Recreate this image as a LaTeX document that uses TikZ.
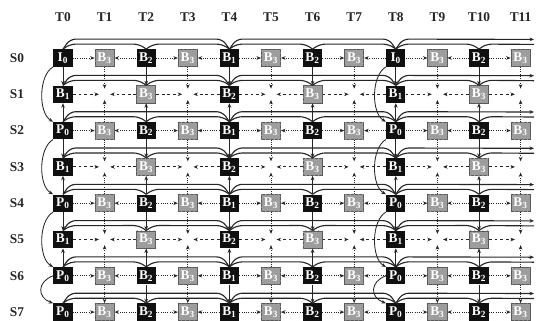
\documentclass[tikz,border=0pt]{standalone}
\usepackage{fontspec}
\setmainfont{Liberation Serif}
\usetikzlibrary{arrows.meta, calc, patterns}
\definecolor{refBlack}{HTML}{101010}
\definecolor{nonrefGray}{HTML}{9C9C9C}
\definecolor{lineDark}{HTML}{262626}

\begin{document}
\begin{tikzpicture}[x=0.025cm, y=-0.025cm,
    every node/.style={font=\fontsize{9.5}{11}\selectfont},
    lbl/.style={font=\fontsize{9.5}{11}\selectfont\bfseries, text=black!85},
    refbox/.style={rectangle, fill=refBlack, text=white, minimum width=4.8mm, minimum height=4.3mm,
                   inner sep=0pt, font=\fontsize{9.5}{10}\selectfont\bfseries},
    grybox/.style={refbox, fill=nonrefGray, draw=black!65, line width=0.5pt,
                   postaction={pattern=crosshatch dots, pattern color=black!35}},
    arr/.style={-{Stealth[length=3.2pt, width=2.6pt]}, lineDark, line width=0.6pt},
    hdot/.style={arr, densely dotted},
    hdash/.style={arr, dash pattern=on 2pt off 2pt, shorten >=4pt},
    vdot/.style={arr, densely dotted, shorten >=4pt},
    spanline/.style={lineDark, line width=0.8pt, rounded corners=4pt},
  ]
  \useasboundingbox (0,0) rectangle (540,321);

  % time and view labels
  \foreach \c in {0,...,11} \node[lbl] (t\c) at (63+41.6*\c, 17) {T\c};
  \foreach \r in {0,...,7} \node[lbl] (s\r) at (17, 58+36.3*\r) {S\r};

  % even views
  \foreach \r/\k in {0/I,2/P,4/P,6/P,7/P}{
    \node[refbox] (n\r-0) at (63, 58+36.3*\r) {\k\textsubscript{0}};
    \node[refbox] (n\r-8) at (63+41.6*8, 58+36.3*\r) {\k\textsubscript{0}};
    \node[refbox] (n\r-4) at (63+41.6*4, 58+36.3*\r) {B\textsubscript{1}};
    \foreach \c in {2,6,10}
      \node[refbox] (n\r-\c) at (63+41.6*\c, 58+36.3*\r) {B\textsubscript{2}};
    \foreach \c in {1,3,...,11}
      \node[grybox] (n\r-\c) at (63+41.6*\c, 58+36.3*\r) {B\textsubscript{3}};
  }

  % odd views
  \foreach \r in {1,3,5}{
    \node[refbox] (n\r-0) at (63, 58+36.3*\r) {B\textsubscript{1}};
    \node[refbox] (n\r-8) at (63+41.6*8, 58+36.3*\r) {B\textsubscript{1}};
    \node[refbox] (n\r-4) at (63+41.6*4, 58+36.3*\r) {B\textsubscript{2}};
    \foreach \c in {2,6,10}
      \node[grybox] (n\r-\c) at (63+41.6*\c, 58+36.3*\r) {B\textsubscript{3}};
    \foreach \c in {1,3,...,11}
      \coordinate (n\r-\c) at (63+41.6*\c, 58+36.3*\r);
  }

  % temporal prediction
  \foreach \r/\s in {0/hdot,1/hdash,2/hdot,3/hdash,4/hdot,5/hdash,6/hdot,7/hdot}{
    \foreach \c in {1,3,...,11}{
      \pgfmathtruncatemacro\pc{\c-1}
      \draw[\s] (n\r-\pc) -- (n\r-\c);
    }
    \foreach \c in {1,3,...,9}{
      \pgfmathtruncatemacro\nc{\c+1}
      \draw[\s] (n\r-\nc) -- (n\r-\c);
    }
    \foreach \a/\b/\h in {0/4/10,8/4/10,0/2/5,4/2/5,4/6/5,8/6/5,8/10/5}{
      \pgfmathsetmacro\sg{\b>\a ? 1 : -1}
      \draw[spanline] (n\r-\a.north) -- ++(\sg*7,-\h) -- ($(n\r-\b.north)+(-\sg*7,-\h)$) -- (n\r-\b.north);
    }
    \coordinate (hi\r) at (534, 58+36.3*\r-18.6);
    \coordinate (lo\r) at (534, 58+36.3*\r-13.6);
    \draw[spanline, arr, line width=0.8pt] (n\r-8.north) -- ++(7,-10) -- (hi\r);
    \draw[spanline] (n\r-10.north) -- ++(7,-5) -- (lo\r);
  }

  % inter-view prediction
  \foreach \a/\b in {0/1,2/1,2/3,4/3,4/5,6/5}{
    \foreach \c in {0,2,...,10} \draw[arr] (n\a-\c) -- (n\b-\c);
    \foreach \c in {1,3,...,11} \draw[vdot] (n\a-\c) -- (n\b-\c);
  }
  \foreach \c in {2,4,6,10} \draw[arr] (n6-\c) -- (n7-\c);
  \foreach \c in {1,3,...,11} \draw[hdot] (n6-\c) -- (n7-\c);

  % anchor views
  \foreach \c in {0,8}{
    \foreach \a/\b in {0/2,2/4,4/6}
      \draw[arr] (n\a-\c.south west) to[out=210, in=150, looseness=0.8] (n\b-\c.north west);
    \draw[arr] (n6-\c.west) to[out=200, in=160, looseness=1.6] (n7-\c.north west);
  }

\end{tikzpicture}
\end{document}
